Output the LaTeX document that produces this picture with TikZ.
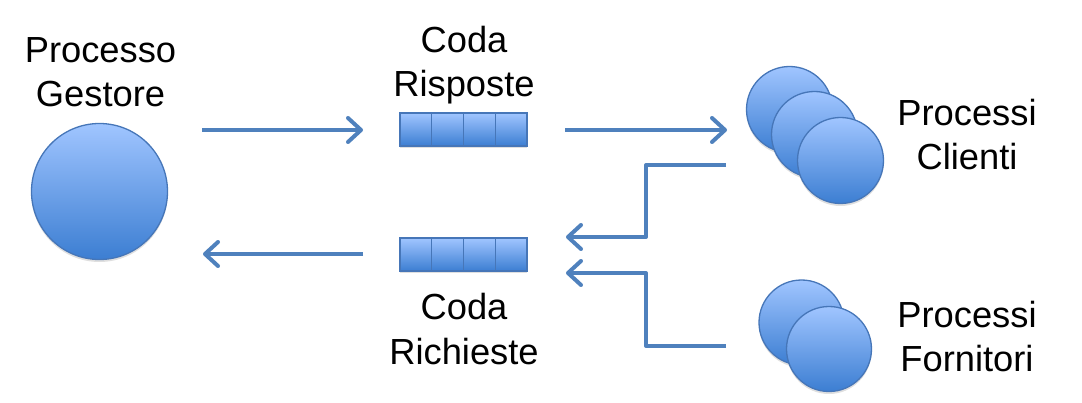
\documentclass[tikz,border=0pt]{standalone}
\usepackage{fontspec}
\setmainfont{Liberation Sans}
\usetikzlibrary{arrows.meta,shadows}
\definecolor{lineblue}{RGB}{79,129,189}
\definecolor{edgeblue}{RGB}{70,118,184}
\definecolor{topblue}{RGB}{160,197,255}
\definecolor{botblue}{RGB}{60,126,210}
\tikzset{
  lbl/.style={font=\fontsize{36.3}{44}\selectfont, align=center, anchor=base, inner sep=0pt},
  ball/.style={circle, draw=edgeblue, line width=1.3pt, top color=topblue, bottom color=botblue,
    drop shadow={opacity=0.25, shadow xshift=0pt, shadow yshift=-2.5pt}},
  cell/.style={rectangle, draw=edgeblue, line width=1.3pt, top color=topblue, bottom color=botblue,
    minimum width=31.75pt, minimum height=33pt, inner sep=0pt,
    drop shadow={opacity=0.25, shadow xshift=0pt, shadow yshift=-2.5pt}},
  flow/.style={draw=lineblue, line width=4pt, line join=round,
    -{Straight Barb[length=13pt,width=24pt,line cap=round,line join=round]}},
}
\begin{document}
\begin{tikzpicture}[x=1pt,y=-1pt]
\useasboundingbox (0,0) rectangle (1082,403);
% labels (anchor at the baseline of the last line)
\node[lbl] (lgest) at (100.5,107) {Processo\\Gestore};
\node[lbl] (lrisp) at (464,97) {Coda\\Risposte};
\node[lbl] (lrich) at (464,364) {Coda\\Richieste};
\node[lbl] (lcli) at (967,170) {Processi\\Clienti};
\node[lbl] (lforn) at (967,372) {Processi\\Fornitori};
% manager process
\node[ball, minimum size=136pt] (gest) at (99.5,191.5) {};
% queues
\foreach \i in {0,1,2,3} {
  \node[cell] (r\i) at ({400+31.75*(\i+0.5)},129.5) {};
  \node[cell] (q\i) at ({400+31.75*(\i+0.5)},254.5) {};
}
% clients
\node[ball, minimum size=86pt] (c1) at (789.5,109.5) {};
\node[ball, minimum size=86pt] (c2) at (814.5,134.5) {};
\node[ball, minimum size=86pt] (c3) at (840.5,160.5) {};
% suppliers
\node[ball, minimum size=85pt] (f1) at (801.5,322.5) {};
\node[ball, minimum size=85pt] (f2) at (829,349) {};
% connector end points
\coordinate (a1s) at (202,130); \coordinate (a1e) at (363,130);
\coordinate (a2s) at (363,254); \coordinate (a2e) at (203,254);
\coordinate (a3s) at (565,130); \coordinate (a3e) at (727,130);
\coordinate (b1s) at (726,165); \coordinate (b1e) at (566,237);
\coordinate (b2s) at (726,346); \coordinate (b2e) at (566,273);
\draw[flow] (a1s) -- (a1e);
\draw[flow] (a2s) -- (a2e);
\draw[flow] (a3s) -- (a3e);
\draw[flow] (b1s) -- (646,165) -- (646,237) -- (b1e);
\draw[flow] (b2s) -- (646,346) -- (646,273) -- (b2e);
\end{tikzpicture}
\end{document}
